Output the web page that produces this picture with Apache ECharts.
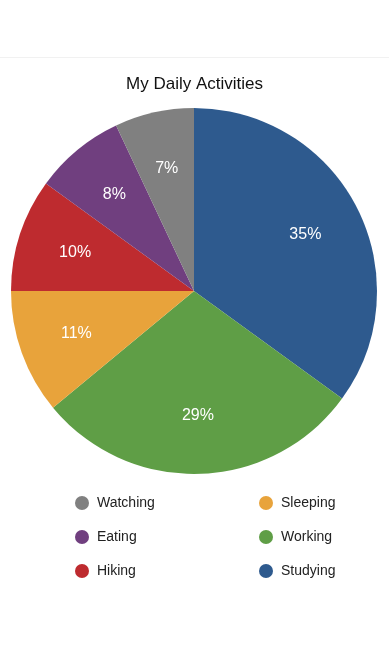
<!DOCTYPE html>
<html>
<head>
<meta charset="utf-8">
<script src="https://cdn.jsdelivr.net/npm/echarts@6/dist/echarts.min.js"></script>
<style>
  html, body { margin: 0; padding: 0; background: #fff; }
  #chart { width: 389px; height: 646px; }
</style>
</head>
<body>
<div id="chart"></div>
<script>
// 活动名称与占比
var activities = ['Studying', 'Working', 'Sleeping', 'Hiking', 'Eating', 'Watching'];
var shares = [35, 29, 11, 10, 8, 7];
var colors = ['#2e5a8e', '#5f9e46', '#e8a33b', '#be2b2f', '#703f7f', '#808080'];

var leftLegend = ['Watching', 'Eating', 'Hiking'];
var rightLegend = ['Sleeping', 'Working', 'Studying'];

var myChart = echarts.init(document.getElementById('chart'));

var pieData = activities.map(function(name, i) {
  return { name: name, value: shares[i], itemStyle: { color: colors[i] } };
});
// 标签用的透明环，让百分比落在半径约 2/3 处
var labelData = activities.map(function(name, i) {
  return { name: name, value: shares[i] };
});

var legendCommon = {
  orient: 'vertical',
  top: 496,
  padding: 0,
  icon: 'circle',
  itemWidth: 14,
  itemHeight: 14,
  itemGap: 20,
  selectedMode: false,
  textStyle: { fontSize: 14, color: '#222', padding: [0, 0, 0, 3], fontFamily: 'Liberation Sans, Arial, sans-serif' }
};

myChart.setOption({
  animation: false,
  title: {
    text: 'My Daily Activities',
    left: 'center',
    top: 71,
    textStyle: { fontSize: 17, fontWeight: 'normal', color: '#111', fontFamily: 'Liberation Sans, Arial, sans-serif' }
  },
  graphic: [{
    type: 'rect',
    shape: { x: 0, y: 57, width: 389, height: 1 },
    style: { fill: '#f1f1f1' }
  }],
  legend: [
    Object.assign({ left: 75, data: leftLegend }, legendCommon),
    Object.assign({ left: 259, data: rightLegend }, legendCommon)
  ],
  series: [{
    type: 'pie',
    center: [194, 291],
    radius: [0, 183],
    startAngle: 90,
    clockwise: true,
    silent: true,
    label: { show: false },
    labelLine: { show: false },
    itemStyle: { borderWidth: 0 },
    data: pieData
  }, {
    type: 'pie',
    center: [194, 291],
    radius: [61, 183],
    startAngle: 90,
    clockwise: true,
    silent: true,
    itemStyle: { color: 'rgba(0,0,0,0)', borderWidth: 0 },
    label: {
      show: true,
      position: 'inside',
      color: '#fff',
      fontSize: 16,
      fontFamily: 'Liberation Sans, Arial, sans-serif',
      formatter: function(p) { return p.value + '%'; }
    },
    labelLine: { show: false },
    data: labelData
  }]
});
</script>
</body>
</html>
